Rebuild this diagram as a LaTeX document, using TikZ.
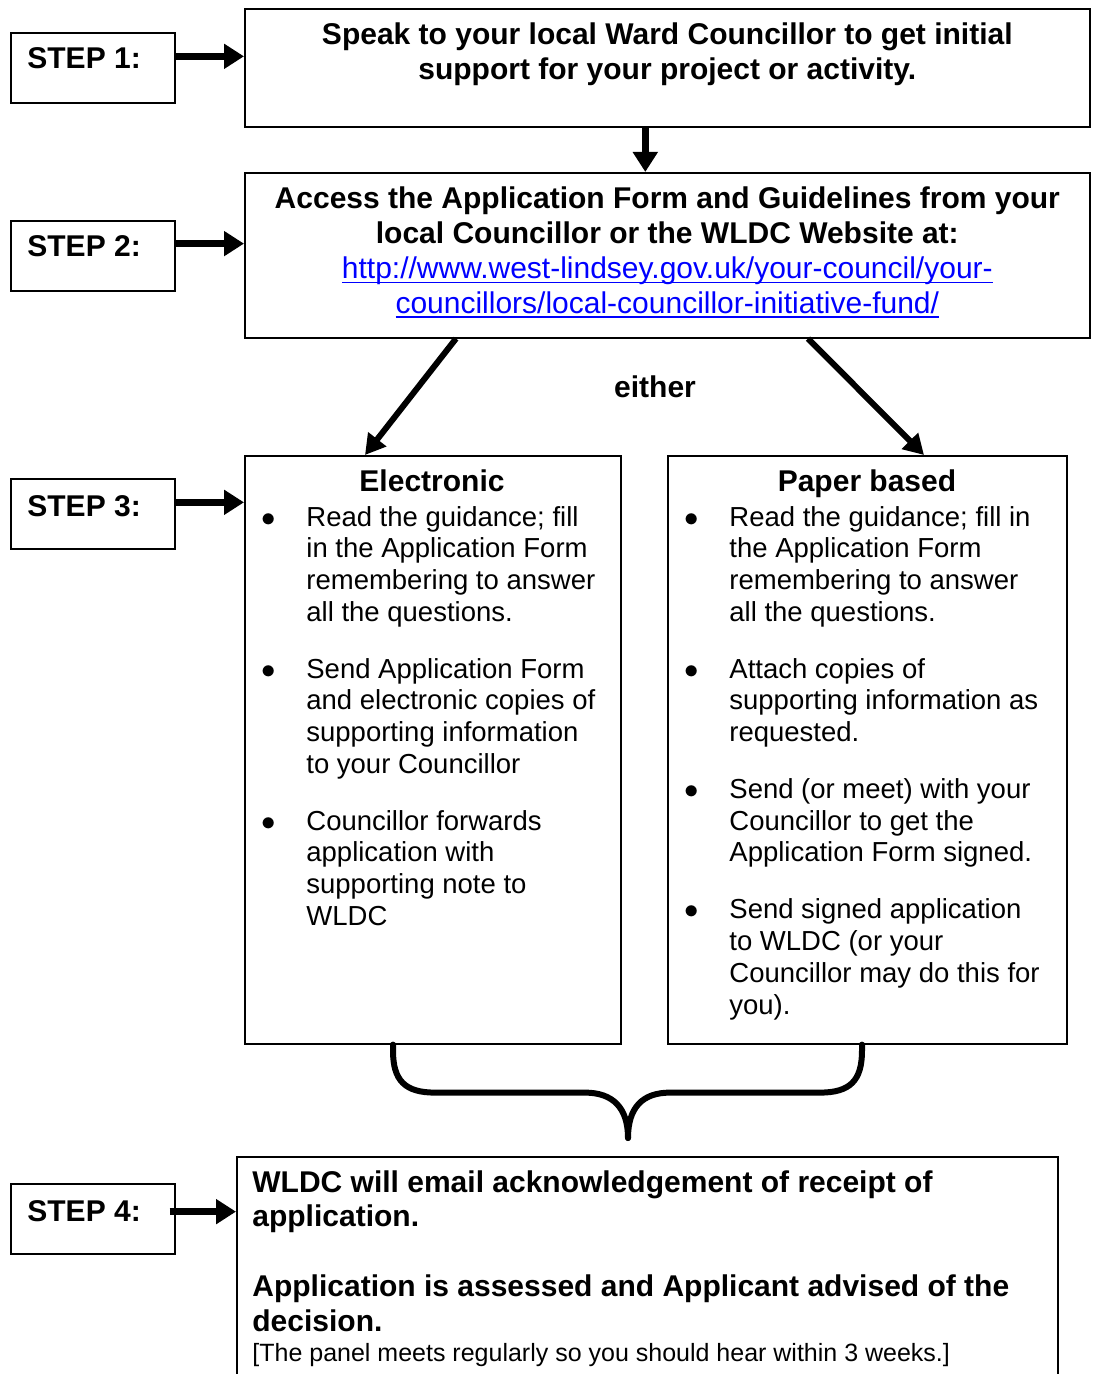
\documentclass[tikz,border=0pt]{standalone}
\usepackage{fontspec}
\setmainfont{Liberation Sans}
\usepackage{xcolor}
\usepackage{tikz}
\usetikzlibrary{arrows.meta}
\usetikzlibrary{positioning, calc}
\definecolor{linkblue}{RGB}{0,0,255}
\newcommand{\titlefont}{\fontsize{15}{17.4}\selectfont\bfseries}
\newcommand{\bodyfont}{\fontsize{13.75}{15.85}\selectfont}
\newcommand{\notefont}{\fontsize{12.5}{14.4}\selectfont}
\newlength{\linkwd}
\newcommand{\weblink}[1]{\settowidth{\linkwd}{#1}%
    \textcolor{linkblue}{#1\llap{\rule[-2.2pt]{\linkwd}{0.65pt}}}}
\newcommand{\itembul}{$\bullet$}
\tikzset{
    step_box/.style = {draw=black, line width=0.8pt, inner sep=0pt,
        minimum width=82pt, minimum height=35pt, anchor=north west},
    main_box/.style = {draw=black, line width=0.8pt, inner sep=0pt, anchor=north west},
    step_text/.style = {inner sep=0pt, anchor=base west, font=\titlefont},
    title_text/.style = {inner sep=0pt, anchor=base, font=\titlefont},
    list_text/.style = {inner sep=0pt, anchor=base west, font=\bodyfont},
    big_arrow/.style = {line width=3.5pt, -{Triangle[length=10pt, width=12pt]}},
    slant_arrow/.style = {line width=3pt, -{Triangle[length=10pt, width=11pt]}},
    brace_line/.style = {line width=3pt, line cap=round},
}

\begin{document}
\begin{tikzpicture}[x=0.5pt, y=-0.5pt]
        \useasboundingbox (0,0) rectangle (1092,1374);
        % step labels
        \node [step_box] (step1) at (10,32) {};
        \node [step_box] (step2) at (10,220) {};
        \node [step_box] (step3) at (10,478) {};
        \node [step_box] (step4) at (10,1183) {};
        \node [step_text] (step1_txt) at ($(step1.north west)+(17,37)$) {STEP 1:};
        \node [step_text] (step2_txt) at ($(step2.north west)+(17,37)$) {STEP 2:};
        \node [step_text] (step3_txt) at ($(step3.north west)+(17,38)$) {STEP 3:};
        \node [step_text] (step4_txt) at ($(step4.north west)+(17,38)$) {STEP 4:};
        % main boxes
        \node [main_box, minimum width=422.5pt, minimum height=59pt] (speak) at (244,8) {};
        \node [main_box, minimum width=422.5pt, minimum height=82.5pt] (access) at (244,172) {};
        \node [main_box, minimum width=188pt, minimum height=294pt] (elec) at (244,455) {};
        \node [main_box, minimum width=199.5pt, minimum height=294pt] (paper) at (667,455) {};
        \node [main_box, minimum width=410.5pt, minimum height=125pt] (wldc) at (236,1156) {};
        % box texts
        \node [title_text] (speak_txt) at ($(speak.north)+(0,37)$) {\begin{tabular}[t]{@{}c@{}}
            Speak to your local Ward Councillor to get initial\\
            support for your project or activity.\end{tabular}};
        \node [title_text] (access_txt) at ($(access.north)+(0,37)$) {\begin{tabular}[t]{@{}c@{}}
            Access the Application Form and Guidelines from your\\
            local Councillor or the WLDC Website at:\\
            \mdseries\weblink{http://www.west-lindsey.gov.uk/your-council/your-}\\
            \mdseries\weblink{councillors/local-councillor-initiative-fund/}\end{tabular}};
        \node [title_text] (either) at (655,397) {either};
        \node [title_text] (elec_head) at ($(elec.north west)+(188,36)$) {Electronic};
        \node [title_text] (paper_head) at ($(paper.north west)+(200,36)$) {Paper based};
        \node [list_text] (elec_list) at ($(elec.north west)+(17,71)$) {\begin{tabular}[t]{@{}p{22.5pt}@{}l@{}}
            \itembul & Read the guidance; fill\\
             & in the Application Form\\
             & remembering to answer\\
             & all the questions.\\[12.65pt]
            \itembul & Send Application Form\\
             & and electronic copies of\\
             & supporting information\\
             & to your Councillor\\[12.65pt]
            \itembul & Councillor forwards\\
             & application with\\
             & supporting note to\\
             & WLDC\end{tabular}};
        \node [list_text] (paper_list) at ($(paper.north west)+(17,71)$) {\begin{tabular}[t]{@{}p{22.5pt}@{}l@{}}
            \itembul & Read the guidance; fill in\\
             & the Application Form\\
             & remembering to answer\\
             & all the questions.\\[12.65pt]
            \itembul & Attach copies of\\
             & supporting information as\\
             & requested.\\[12.65pt]
            \itembul & Send (or meet) with your\\
             & Councillor to get the\\
             & Application Form signed.\\[12.65pt]
            \itembul & Send signed application\\
             & to WLDC (or your\\
             & Councillor may do this for\\
             & you).\end{tabular}};
        \node [inner sep=0pt, anchor=base west, font=\titlefont] (wldc_txt) at ($(wldc.north west)+(16,36)$) {\begin{tabular}[t]{@{}l@{}}
            WLDC will email acknowledgement of receipt of\\
            application.\\
            \\
            Application is assessed and Applicant advised of the\\
            decision.\\[-2.5pt]
            \mdseries\notefont [The panel meets regularly so you should hear within 3 weeks.]\end{tabular}};
        % step arrows
        \coordinate (s1_out) at ($(step1.north east)!0.34!(step1.south east)$);
        \coordinate (s2_out) at ($(step2.north east)!0.33!(step2.south east)$);
        \coordinate (s3_out) at ($(step3.north east)!0.34!(step3.south east)$);
        \coordinate (s4_out) at ($(step4.north east)!0.4!(step4.south east)+(-6,0)$);
        \draw [big_arrow] (s1_out) -- (s1_out -| speak.west);
        \draw [big_arrow] (s2_out) -- (s2_out -| access.west);
        \draw [big_arrow] (s3_out) -- (s3_out -| elec.west);
        \draw [big_arrow] (s4_out) -- (s4_out -| wldc.west);
        % flow arrows
        \coordinate (down_from) at ($(speak.south)+(-22,0)$);
        \draw [big_arrow] (down_from) -- (down_from |- access.north);
        \coordinate (left_from) at ($(access.south west)+(212,0)$);
        \coordinate (left_to) at ($(elec.north west)+(121,0)$);
        \coordinate (right_from) at ($(access.south west)+(564,0)$);
        \coordinate (right_to) at ($(paper.north west)+(257,0)$);
        \draw [slant_arrow] (left_from) -- (left_to);
        \draw [slant_arrow] (right_from) -- (right_to);
        % brace joining both routes
        \coordinate (brace_l) at ($(elec.south west)+(149,0)$);
        \coordinate (brace_r) at ($(paper.south west)+(195,0)$);
        \coordinate (brace_tip) at ($(wldc.north west)+(392,-18)$);
        \draw [brace_line] (brace_l) -- ++(0,6) .. controls +(0,30) and +(-30,0) .. ++(42,42)
            -- ++(150,0) .. controls +(28,0) and +(0,-30) .. (brace_tip);
        \draw [brace_line] (brace_r) -- ++(0,6) .. controls +(0,30) and +(30,0) .. ++(-42,42)
            -- ++(-150,0) .. controls +(-28,0) and +(0,-30) .. (brace_tip);
\end{tikzpicture}
\end{document}
